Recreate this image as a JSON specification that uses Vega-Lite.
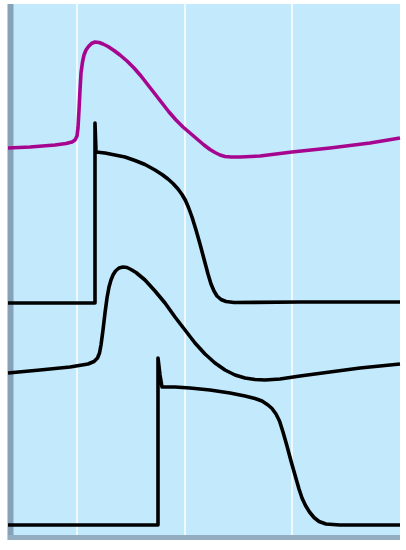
{
  "$schema": "https://vega.github.io/schema/vega-lite/v6.json",
  "width": 392,
  "height": 536,
  "autosize": "none",
  "padding": {"left": 8, "top": 4, "right": 6, "bottom": 10},
  "background": "white",
  "config": {
    "view": {"fill": "#c2e9fc", "stroke": null},
    "axis": {"disable": true}
  },
  "datasets": {
    "grid": [{"t": 77}, {"t": 185}, {"t": 292}],
    "traces": [
      {"s": "m", "i": 0, "t": 8, "v": 148},
      {"s": "m", "i": 1, "t": 30, "v": 147},
      {"s": "m", "i": 2, "t": 55, "v": 145},
      {"s": "m", "i": 3, "t": 66, "v": 143.5},
      {"s": "m", "i": 4, "t": 72, "v": 142},
      {"s": "m", "i": 5, "t": 75, "v": 140},
      {"s": "m", "i": 6, "t": 77, "v": 136},
      {"s": "m", "i": 7, "t": 78, "v": 128},
      {"s": "m", "i": 8, "t": 79, "v": 110},
      {"s": "m", "i": 9, "t": 80, "v": 90},
      {"s": "m", "i": 10, "t": 81, "v": 73},
      {"s": "m", "i": 11, "t": 82.5, "v": 62},
      {"s": "m", "i": 12, "t": 84, "v": 55},
      {"s": "m", "i": 13, "t": 86, "v": 50},
      {"s": "m", "i": 14, "t": 88.5, "v": 46.5},
      {"s": "m", "i": 15, "t": 91.5, "v": 43.5},
      {"s": "m", "i": 16, "t": 95, "v": 42},
      {"s": "m", "i": 17, "t": 99, "v": 42.5},
      {"s": "m", "i": 18, "t": 103, "v": 44},
      {"s": "m", "i": 19, "t": 108, "v": 46.5},
      {"s": "m", "i": 20, "t": 114, "v": 50.5},
      {"s": "m", "i": 21, "t": 120, "v": 55},
      {"s": "m", "i": 22, "t": 127, "v": 61},
      {"s": "m", "i": 23, "t": 134, "v": 68},
      {"s": "m", "i": 24, "t": 141, "v": 76},
      {"s": "m", "i": 25, "t": 148, "v": 85},
      {"s": "m", "i": 26, "t": 155, "v": 94},
      {"s": "m", "i": 27, "t": 162, "v": 103},
      {"s": "m", "i": 28, "t": 169, "v": 112},
      {"s": "m", "i": 29, "t": 176, "v": 120},
      {"s": "m", "i": 30, "t": 183, "v": 127},
      {"s": "m", "i": 31, "t": 190, "v": 133},
      {"s": "m", "i": 32, "t": 197, "v": 139},
      {"s": "m", "i": 33, "t": 204, "v": 145},
      {"s": "m", "i": 34, "t": 210, "v": 149.5},
      {"s": "m", "i": 35, "t": 215, "v": 152.5},
      {"s": "m", "i": 36, "t": 220, "v": 155},
      {"s": "m", "i": 37, "t": 225, "v": 156.5},
      {"s": "m", "i": 38, "t": 231, "v": 157},
      {"s": "m", "i": 39, "t": 240, "v": 157},
      {"s": "m", "i": 40, "t": 260, "v": 156},
      {"s": "m", "i": 41, "t": 292, "v": 152},
      {"s": "m", "i": 42, "t": 330, "v": 148},
      {"s": "m", "i": 43, "t": 370, "v": 143},
      {"s": "m", "i": 44, "t": 400, "v": 138},

      {"s": "a", "i": 0, "t": 8, "v": 303},
      {"s": "a", "i": 1, "t": 95, "v": 303},
      {"s": "a", "i": 2, "t": 95, "v": 123},
      {"s": "a", "i": 3, "t": 96, "v": 152},
      {"s": "a", "i": 4, "t": 105, "v": 153},
      {"s": "a", "i": 5, "t": 115, "v": 155},
      {"s": "a", "i": 6, "t": 125, "v": 157},
      {"s": "a", "i": 7, "t": 135, "v": 160.5},
      {"s": "a", "i": 8, "t": 145, "v": 164.5},
      {"s": "a", "i": 9, "t": 155, "v": 170},
      {"s": "a", "i": 10, "t": 162, "v": 174.5},
      {"s": "a", "i": 11, "t": 168, "v": 179},
      {"s": "a", "i": 12, "t": 173, "v": 183.5},
      {"s": "a", "i": 13, "t": 178, "v": 189},
      {"s": "a", "i": 14, "t": 182, "v": 194.5},
      {"s": "a", "i": 15, "t": 185.5, "v": 200.5},
      {"s": "a", "i": 16, "t": 188.5, "v": 207.5},
      {"s": "a", "i": 17, "t": 192, "v": 217},
      {"s": "a", "i": 18, "t": 196, "v": 230},
      {"s": "a", "i": 19, "t": 200, "v": 244},
      {"s": "a", "i": 20, "t": 204, "v": 259},
      {"s": "a", "i": 21, "t": 208, "v": 274},
      {"s": "a", "i": 22, "t": 211, "v": 284},
      {"s": "a", "i": 23, "t": 214, "v": 291},
      {"s": "a", "i": 24, "t": 217, "v": 296},
      {"s": "a", "i": 25, "t": 221, "v": 299.5},
      {"s": "a", "i": 26, "t": 226, "v": 301.5},
      {"s": "a", "i": 27, "t": 234, "v": 302.5},
      {"s": "a", "i": 28, "t": 300, "v": 302},
      {"s": "a", "i": 29, "t": 400, "v": 302},

      {"s": "b", "i": 0, "t": 8, "v": 373},
      {"s": "b", "i": 1, "t": 40, "v": 370},
      {"s": "b", "i": 2, "t": 70, "v": 367},
      {"s": "b", "i": 3, "t": 88, "v": 364},
      {"s": "b", "i": 4, "t": 94, "v": 361.5},
      {"s": "b", "i": 5, "t": 97.5, "v": 358},
      {"s": "b", "i": 6, "t": 99.5, "v": 353},
      {"s": "b", "i": 7, "t": 101, "v": 345},
      {"s": "b", "i": 8, "t": 103, "v": 330},
      {"s": "b", "i": 9, "t": 105, "v": 313},
      {"s": "b", "i": 10, "t": 107, "v": 298},
      {"s": "b", "i": 11, "t": 109, "v": 287},
      {"s": "b", "i": 12, "t": 111, "v": 280},
      {"s": "b", "i": 13, "t": 113, "v": 275},
      {"s": "b", "i": 14, "t": 115.5, "v": 271},
      {"s": "b", "i": 15, "t": 119, "v": 268},
      {"s": "b", "i": 16, "t": 123, "v": 267},
      {"s": "b", "i": 17, "t": 127, "v": 267.5},
      {"s": "b", "i": 18, "t": 131, "v": 269.5},
      {"s": "b", "i": 19, "t": 136, "v": 272.5},
      {"s": "b", "i": 20, "t": 145, "v": 280},
      {"s": "b", "i": 21, "t": 155, "v": 291},
      {"s": "b", "i": 22, "t": 165, "v": 303},
      {"s": "b", "i": 23, "t": 175, "v": 317},
      {"s": "b", "i": 24, "t": 185, "v": 330},
      {"s": "b", "i": 25, "t": 195, "v": 343},
      {"s": "b", "i": 26, "t": 205, "v": 354},
      {"s": "b", "i": 27, "t": 215, "v": 363},
      {"s": "b", "i": 28, "t": 225, "v": 370},
      {"s": "b", "i": 29, "t": 235, "v": 375},
      {"s": "b", "i": 30, "t": 245, "v": 378},
      {"s": "b", "i": 31, "t": 255, "v": 379.5},
      {"s": "b", "i": 32, "t": 265, "v": 380},
      {"s": "b", "i": 33, "t": 280, "v": 379},
      {"s": "b", "i": 34, "t": 300, "v": 376},
      {"s": "b", "i": 35, "t": 330, "v": 372},
      {"s": "b", "i": 36, "t": 360, "v": 368},
      {"s": "b", "i": 37, "t": 400, "v": 364},

      {"s": "c", "i": 0, "t": 8, "v": 525},
      {"s": "c", "i": 1, "t": 158, "v": 525},
      {"s": "c", "i": 2, "t": 158, "v": 358},
      {"s": "c", "i": 3, "t": 160, "v": 375},
      {"s": "c", "i": 4, "t": 162, "v": 387},
      {"s": "c", "i": 5, "t": 175, "v": 387},
      {"s": "c", "i": 6, "t": 190, "v": 388},
      {"s": "c", "i": 7, "t": 210, "v": 390},
      {"s": "c", "i": 8, "t": 230, "v": 393},
      {"s": "c", "i": 9, "t": 245, "v": 396},
      {"s": "c", "i": 10, "t": 255, "v": 398.5},
      {"s": "c", "i": 11, "t": 262, "v": 401},
      {"s": "c", "i": 12, "t": 268, "v": 405},
      {"s": "c", "i": 13, "t": 272, "v": 408.5},
      {"s": "c", "i": 14, "t": 276, "v": 414},
      {"s": "c", "i": 15, "t": 279.5, "v": 421},
      {"s": "c", "i": 16, "t": 283, "v": 432},
      {"s": "c", "i": 17, "t": 287, "v": 446},
      {"s": "c", "i": 18, "t": 291, "v": 461},
      {"s": "c", "i": 19, "t": 295, "v": 475},
      {"s": "c", "i": 20, "t": 299, "v": 489},
      {"s": "c", "i": 21, "t": 302, "v": 498},
      {"s": "c", "i": 22, "t": 305.5, "v": 505.5},
      {"s": "c", "i": 23, "t": 309.5, "v": 512},
      {"s": "c", "i": 24, "t": 314, "v": 517.5},
      {"s": "c", "i": 25, "t": 319, "v": 521.5},
      {"s": "c", "i": 26, "t": 326, "v": 524},
      {"s": "c", "i": 27, "t": 340, "v": 525},
      {"s": "c", "i": 28, "t": 400, "v": 525}
    ]
  },
  "resolve": {"scale": {"x": "shared", "y": "shared"}},
  "layer": [
    {
      "data": {"name": "grid"},
      "mark": {"type": "rule", "color": "white", "strokeWidth": 1.5},
      "encoding": {
        "x": {"field": "t", "type": "quantitative", "scale": {"domain": [8, 400], "nice": false, "zero": false}}
      }
    },
    {
      "data": {"values": [{}]},
      "mark": {"type": "rule", "color": "#86a2b8", "strokeWidth": 6},
      "encoding": {
        "x": {"datum": 10.5, "type": "quantitative"}
      }
    },
    {
      "data": {"values": [{}]},
      "mark": {"type": "rule", "color": "#93acc0", "strokeWidth": 5},
      "encoding": {
        "y": {"datum": 537.5, "type": "quantitative", "scale": {"domain": [4, 540], "nice": false, "zero": false, "reverse": true}}
      }
    },
    {
      "data": {"name": "traces"},
      "mark": {"type": "line", "strokeWidth": 3.6, "strokeJoin": "round", "strokeCap": "butt"},
      "encoding": {
        "x": {"field": "t", "type": "quantitative"},
        "y": {"field": "v", "type": "quantitative"},
        "detail": {"field": "s"},
        "order": {"field": "i", "type": "quantitative"},
        "color": {
          "field": "s",
          "type": "nominal",
          "scale": {"domain": ["m", "a", "b", "c"], "range": ["#a6068f", "#000000", "#000000", "#000000"]},
          "legend": null
        }
      }
    }
  ]
}
